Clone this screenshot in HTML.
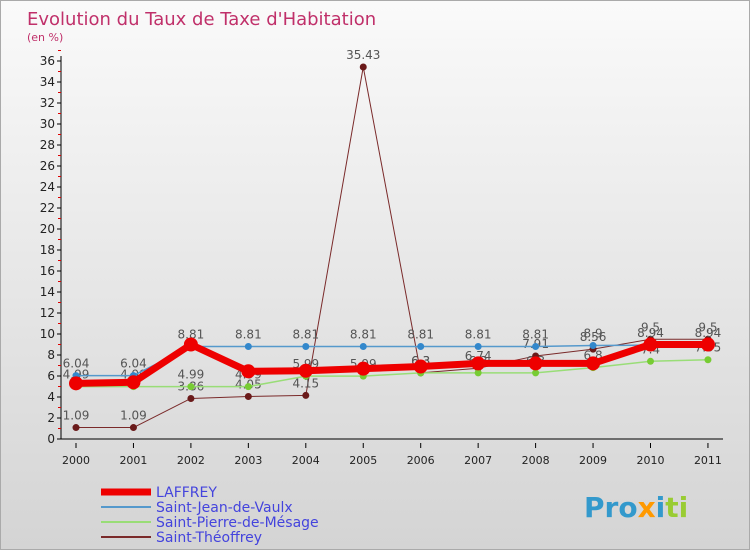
<!DOCTYPE html>
<html><head><meta charset="utf-8"><style>
body{margin:0;width:750px;height:550px;overflow:hidden;font-family:"DejaVu Sans","Liberation Sans",sans-serif}
#wrap{position:relative;width:748px;height:548px;border:1px solid #aaa;background:linear-gradient(#fafafa,#d4d4d4)}
</style></head><body>
<div id="wrap">
<svg id="chart" width="748" height="548"></svg>
</div>
<script>
const years=["2000","2001","2002","2003","2004","2005","2006","2007","2008","2009","2010","2011"];
const laffrey=[5.3,5.4,9,6.45,6.5,6.7,6.9,7.2,7.2,7.2,9,9];
const stJean=[6.04,6.04,8.81,8.81,8.81,8.81,8.81,8.81,8.81,8.9,8.94,8.94];
const stPierre=[4.99,4.99,4.99,4.99,5.99,5.99,6.3,6.3,6.3,6.8,7.4,7.55];
const stTheo=[1.09,1.09,3.86,4.05,4.15,35.43,6.3,6.74,7.91,8.56,9.5,9.5];
const yTicks=[0,2,4,6,8,10,12,14,16,18,20,22,24,26,28,30,32,34,36];
const NS="http://www.w3.org/2000/svg",svg=document.getElementById('chart');
const X=i=>75+i*57.45, Y=v=>438-v*10.5;
function mk(t,a,p){const e=document.createElementNS(NS,t);for(const k in a)e.setAttribute(k,a[k]);(p||svg).appendChild(e);return e;}
let t=mk('text',{x:26,y:24,'font-size':18,fill:'#c0306a'});t.textContent="Evolution du Taux de Taxe d'Habitation";

t=mk('text',{x:26,y:40,'font-size':11,fill:'#c0306a'});t.textContent="(en %)";

let ax=mk('line',{x1:60,y1:Y(36)-5,x2:60,y2:Y(0),stroke:'#000'});

ax=mk('line',{x1:60,y1:Y(0),x2:722,y2:Y(0),stroke:'#000'});

yTicks.forEach(v=>{mk('line',{x1:56,y1:Y(v),x2:60,y2:Y(v),stroke:'#000'});
 mk('line',{x1:57,y1:Y(v+1),x2:60,y2:Y(v+1),stroke:'#d00'});
 const l=mk('text',{x:54,y:Y(v)+4,'font-size':12,'text-anchor':'end',fill:'#222'});l.textContent=v;
 });
years.forEach((y,i)=>{mk('line',{x1:X(i),y1:Y(0)+4,x2:X(i),y2:Y(0)+9,stroke:'#000'});
 const l=mk('text',{x:X(i),y:Y(0)+25,'font-size':11,'text-anchor':'middle',fill:'#222'});l.textContent=y;
 });
function series(d,col,w,r,dot,name,lab){
 const g=mk('g',{});
 mk('polyline',{points:d.map((v,i)=>X(i)+','+Y(v)).join(' '),fill:'none',stroke:col,'stroke-width':w,'stroke-linejoin':'round'},g);
 d.forEach((v,i)=>{const c=mk('circle',{cx:X(i),cy:Y(v),r:r,fill:dot},g);
  
  if(lab){const l=mk('text',{x:X(i),y:Y(v)-8,'font-size':12,'text-anchor':'middle',fill:'#555'},g);l.textContent=v;}});
}
series(stTheo,'#7a2a2a',1,3.5,'#6a1a1a','st-theoffrey-series',true);
series(stPierre,'#99dd77',1.5,3.5,'#77cc33','st-pierre-series',true);
series(stJean,'#5599cc',1.5,3.5,'#3388cc','st-jean-series',true);
series(laffrey,'#ee0000',7,7,'#ee0000','laffrey-series',false);
const legend=[['LAFFREY','#ee0000',7],['Saint-Jean-de-Vaulx','#5599cc',2],['Saint-Pierre-de-Mésage','#99dd77',2],['Saint-Théoffrey','#7a2a2a',2]];
legend.forEach((e,i)=>{const g=mk('g',{});
 mk('line',{x1:100,y1:491+i*15,x2:150,y2:491+i*15,stroke:e[1],'stroke-width':e[2]},g);
 const l=mk('text',{x:155,y:496+i*15,'font-size':14,fill:'#4444dd'},g);l.textContent=e[0];});
const lg=mk('text',{x:583,y:516,'font-size':28,'font-weight':'bold',fill:'#3399cc'});

lg.innerHTML='Pro<tspan fill="#ff9900">x</tspan><tspan fill="#3399cc">i</tspan><tspan fill="#99cc33">ti</tspan>';
</script>
</body></html>
